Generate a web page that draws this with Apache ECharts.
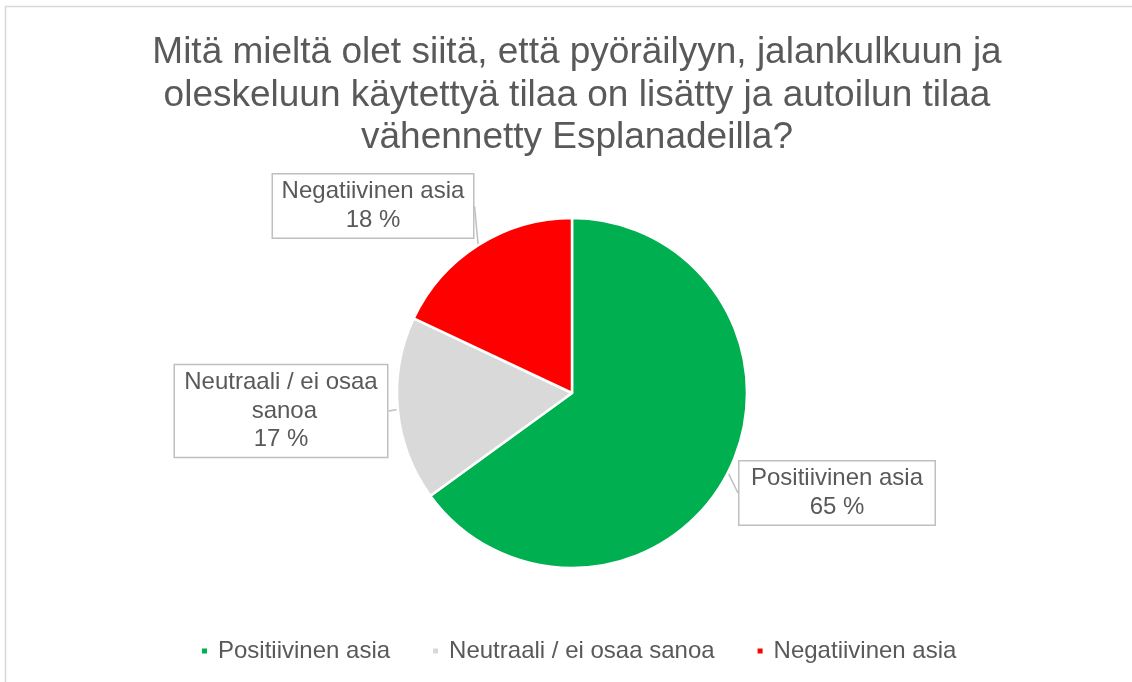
<!DOCTYPE html>
<html>
<head>
<meta charset="utf-8">
<script src="https://cdn.jsdelivr.net/npm/echarts@6/dist/echarts.min.js"></script>
<style>
  html, body { margin: 0; padding: 0; background: #ffffff; }
  #chart { width: 1132px; height: 682px; }
</style>
</head>
<body>
<div id="chart"></div>
<script>
// Survey answers (share of respondents, %)
const titleText = 'Mitä mieltä olet siitä, että pyöräilyyn, jalankulkuun ja\noleskeluun käytettyä tilaa on lisätty ja autoilun tilaa\nvähennetty Esplanadeilla?';
const categories = ['Positiivinen asia', 'Neutraali / ei osaa sanoa', 'Negatiivinen asia'];
const shares = [65, 17, 18];
const sliceColors = ['#00B050', '#D9D9D9', '#FF0000'];

const FONT = "'Liberation Sans', Arial, sans-serif";
const TEXT = '#595959';

// where each callout box sits (centre of the box) and how wide its text runs
const calloutCentres = [[837, 493], [281, 411], [373, 206]];
const calloutWidths = [179, 196, 184];

const chart = echarts.init(document.getElementById('chart'), null, { renderer: 'canvas' });

chart.setOption({
  backgroundColor: '#ffffff',
  animation: false,
  graphic: [{
    type: 'rect',
    shape: { x: 5.5, y: 6.5, width: 1200, height: 800 },
    style: { fill: 'none', stroke: '#d9d9d9', lineWidth: 1.5 },
    silent: true
  }],
  title: {
    text: titleText,
    left: 572,
    top: 27,
    textAlign: 'center',
    textStyle: {
      fontFamily: FONT,
      fontSize: 37,
      fontWeight: 'normal',
      color: TEXT,
      lineHeight: 42.5
    }
  },
  legend: {
    data: categories,
    left: 195,
    top: 634,
    itemWidth: 7,
    itemHeight: 7,
    itemGap: 41,
    icon: 'rect',
    textStyle: {
      fontFamily: FONT,
      fontSize: 24,
      color: TEXT,
      padding: [0, 0, 0, 5]
    }
  },
  series: [{
    type: 'pie',
    center: [572, 393],
    radius: [0, 175],
    startAngle: 90,
    clockwise: true,
    avoidLabelOverlap: false,
    itemStyle: { borderColor: '#ffffff', borderWidth: 2.5 },
    label: {
      show: true,
      position: 'outside',
      formatter: p => p.name + '\n' + p.value + ' %',
      fontFamily: FONT,
      fontSize: 24,
      lineHeight: 28.5,
      color: TEXT,
      align: 'center',
      backgroundColor: '#ffffff',
      borderColor: '#bfbfbf',
      borderWidth: 1.5,
      padding: [3, 8],
      overflow: 'break'
    },
    labelLine: {
      show: true,
      length: 4,
      length2: 0,
      lineStyle: { color: '#bfbfbf', width: 1.5 }
    },
    labelLayout: params => ({
      x: calloutCentres[params.dataIndex][0],
      y: calloutCentres[params.dataIndex][1],
      align: 'center',
      verticalAlign: 'middle'
    }),
    emphasis: { disabled: true },
    data: categories.map((name, i) => ({
      name: name,
      value: shares[i],
      itemStyle: { color: sliceColors[i] },
      label: { width: calloutWidths[i] }
    }))
  }]
});
</script>
</body>
</html>
